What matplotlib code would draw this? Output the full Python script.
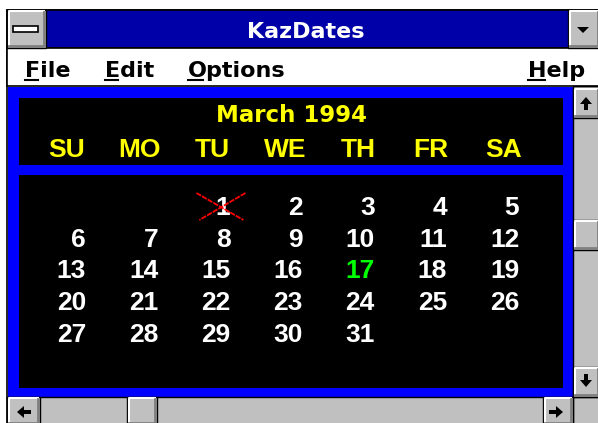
import matplotlib.pyplot as plt
from matplotlib import font_manager
from matplotlib.patches import Rectangle, Polygon

# calendar content
app_title = "KazDates"
menu_items = ["File", "Edit", "Options", "Help"]
month_label = "March 1994"
day_names = ["SU", "MO", "TU", "WE", "TH", "FR", "SA"]
weeks = [
    [None, None, 1, 2, 3, 4, 5],
    [6, 7, 8, 9, 10, 11, 12],
    [13, 14, 15, 16, 17, 18, 19],
    [20, 21, 22, 23, 24, 25, 26],
    [27, 28, 29, 30, 31, None, None],
]
today = 17
crossed_days = [1]

NAVY = "#0000a8"
BLUE = "#0000ff"
GRAY = "#c0c0c0"
DARK = "#808080"
YELLOW = "#ffff00"
GREEN = "#00ff00"

# narrow face for the grid if there is one
try:
    font_manager.findfont(font_manager.FontProperties(family="Liberation Sans Narrow", weight="bold"),
                          fallback_to_default=False)
    grid_font, grid_size = "Liberation Sans Narrow", 20
except ValueError:
    grid_font, grid_size = "Liberation Sans", 19

fig = plt.figure(figsize=(5.98, 4.23), dpi=100)
ax = fig.add_axes([0, 0, 1, 1])
ax.set_xlim(0, 598)
ax.set_ylim(423, 0)
ax.axis("off")


def box(x0, y0, x1, y1, fc, ec="none", lw=0, z=1):
    ax.add_patch(Rectangle((x0, y0), x1 - x0, y1 - y0, fc=fc, ec=ec, lw=lw, zorder=z))


def button(x0, y0, x1, y1, z=3):
    # win3.1 style raised button
    box(x0, y0, x1, y1, GRAY, "black", 1.0, z)
    ax.plot([x0 + 1.5, x0 + 1.5, x1 - 2], [y1 - 2, y0 + 1.5, y0 + 1.5], color="white", lw=1.5, zorder=z + 1)
    ax.plot([x0 + 2, x1 - 2, x1 - 2], [y1 - 2, y1 - 2, y0 + 2], color=DARK, lw=2, zorder=z + 1)


# window frame
box(7, 10, 600, 423, "white", "black", 1.2)

# title bar
box(7, 10, 600, 48, NAVY, "black", 1.2, 2)
button(7, 10, 46, 48)
box(13, 26, 38, 32, "white", "black", 1.2, 5)
button(568, 10, 600, 48)
ax.add_patch(Polygon([[577, 27], [589, 27], [583, 33]], closed=True, fc="black", zorder=6))
ax.text(306, 38, app_title, color="white", fontsize=16, fontweight="bold",
        family="DejaVu Sans", ha="center", va="baseline", zorder=5)

# menu bar
box(7, 48, 600, 86, "white", "black", 1.2, 2)
menu_x = [25, 105, 188, 528]
underline_w = [13, 13, 15, 17]
for label, mx, uw in zip(menu_items, menu_x, underline_w):
    ax.text(mx, 77, label, color="black", fontsize=16, fontweight="bold",
            family="DejaVu Sans", ha="left", va="baseline", zorder=5)
    ax.plot([mx, mx + uw], [80.5, 80.5], color="black", lw=1.5, zorder=5)

# client area
box(8, 87, 573, 397, BLUE, z=2)
box(19, 98, 563, 165, "black", z=3)
box(19, 175, 563, 388, "black", z=3)

# header
ax.text(291.5, 122, month_label, color=YELLOW, fontsize=16.5, fontweight="bold",
        family="DejaVu Sans", ha="center", va="baseline", zorder=5)
for i, name in enumerate(day_names):
    ax.text(67 + 72.7 * i, 157, name, color=YELLOW, fontsize=grid_size, fontweight="bold",
            family=grid_font, ha="center", va="baseline", zorder=5)

# day grid
for r, week in enumerate(weeks):
    for c, day in enumerate(week):
        if day is None:
            continue
        x = 86 + 72.2 * c
        y = 205 + 31.7 * r
        col = GREEN if day == today else "white"
        ax.text(x, y + 10, str(day), color=col, fontsize=grid_size, fontweight="bold",
                family=grid_font, ha="right", va="baseline", zorder=5)
        if day in crossed_days:
            cx = x - 9
            ax.plot([cx - 25, cx + 22], [y - 12, y + 15], color="red", lw=1.3, ls=(0, (3, 0.6)), zorder=6)
            ax.plot([cx + 24, cx - 22], [y - 12, y + 15], color="red", lw=1.3, ls=(0, (3, 0.6)), zorder=6)

# vertical scrollbar
box(573, 86, 600, 397, GRAY, "black", 1.0, 2)
button(573, 88, 600, 118)
ax.add_patch(Polygon([[580, 104], [592, 104], [586, 97]], closed=True, fc="black", zorder=6))
box(584, 104, 588, 110, "black", z=6)
button(573, 220, 600, 250)
button(573, 367, 600, 397)
ax.add_patch(Polygon([[580, 380], [592, 380], [586, 387]], closed=True, fc="black", zorder=6))
box(584, 374, 588, 380, "black", z=6)

# horizontal scrollbar
box(7, 397, 573, 425, GRAY, "black", 1.0, 2)
button(7, 397, 40, 425)
ax.add_patch(Polygon([[17, 412], [24, 406], [24, 418]], closed=True, fc="black", zorder=6))
box(24, 410, 31, 414, "black", z=6)
button(127, 397, 157, 425)
button(543, 397, 573, 425)
ax.add_patch(Polygon([[563, 412], [556, 406], [556, 418]], closed=True, fc="black", zorder=6))
box(549, 410, 556, 414, "black", z=6)
box(573, 397, 600, 425, GRAY, "black", 1.0, 2)

fig.savefig("out.png", dpi=100)
